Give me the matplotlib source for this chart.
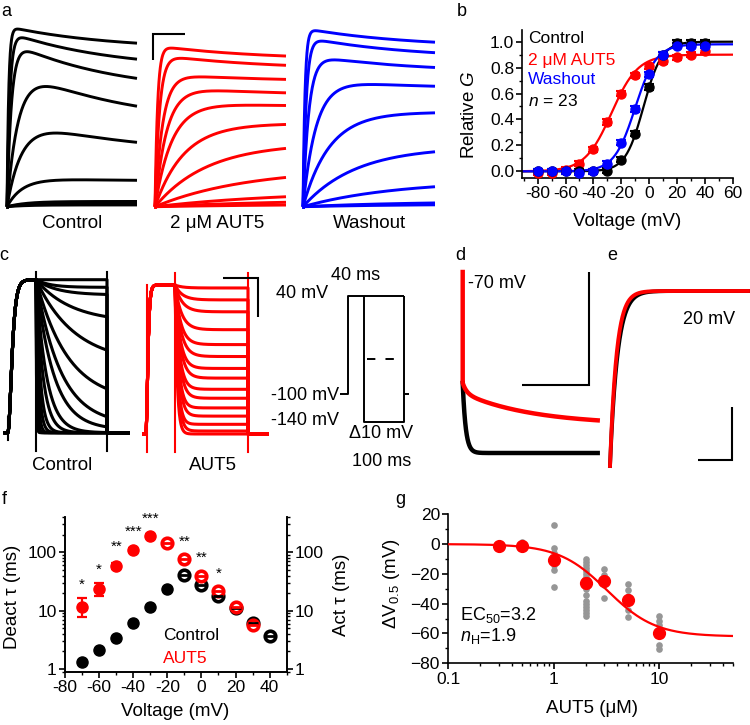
import numpy as np
import matplotlib
matplotlib.use('Agg')
import matplotlib.pyplot as plt
from matplotlib.ticker import MultipleLocator, FixedLocator, FuncFormatter, LogLocator, NullFormatter

plt.rcParams['font.family'] = ['Liberation Sans', 'DejaVu Sans']
plt.rcParams['mathtext.fontset'] = 'custom'
plt.rcParams['mathtext.rm'] = 'Liberation Sans'
plt.rcParams['mathtext.it'] = 'Liberation Sans:italic'
plt.rcParams['mathtext.sf'] = 'Liberation Sans'
plt.rcParams['axes.linewidth'] = 1.2

RED = '#ff0000'
BLUE = '#0000ff'
GRAY = '#969696'

# ---------------- DATA ----------------
# panel a: current traces (plateau amplitude, activation tau, fraction inactivated)
a_time_end = 100
a_inact_tau = 80
a_ctrl_amp = [1.03, 1.00, 0.95, 0.82, 0.52, 0.165, 0.03, 0.02, 0.01]
a_ctrl_tau = [1.3, 2.2, 3.5, 9, 12, 12, 15, 15, 15]
a_ctrl_inact = [0.13, 0.22, 0.32, 0.42, 0.41, 0.12, 0, 0, 0]
a_aut5_amp = [0.92, 0.87, 0.76, 0.69, 0.60, 0.475, 0.363, 0.22, 0.09, 0.04, 0.015]
a_aut5_tau = [2, 3.5, 6, 9, 13, 22, 40, 70, 100, 100, 100]
a_aut5_inact = [0.09, 0.10, 0.06, 0.08, 0.05, 0, 0, 0, 0, 0, 0]
a_wash_amp = [1.02, 0.97, 0.87, 0.73, 0.54, 0.342, 0.15, 0.03, 0.015]
a_wash_tau = [1.5, 2.5, 4.5, 10, 20, 40, 70, 80, 80]
a_wash_inact = [0.11, 0.13, 0.12, 0.08, 0, 0, 0, 0, 0]

# panel b: G-V
b_voltage = [-80, -70, -60, -50, -40, -30, -20, -10, 0, 10, 20, 30, 40]
b_ctrl = [0.0, 0.0, 0.0, 0.0, 0.0, 0.005, 0.09, 0.29, 0.65, 0.90, 0.99, 0.99, 0.99]
b_aut5 = [-0.01, -0.01, 0.01, 0.06, 0.17, 0.38, 0.60, 0.74, 0.81, 0.85, 0.88, 0.90, 0.93]
b_wash = [0.0, 0.0, 0.0, -0.01, 0.0, 0.06, 0.22, 0.48, 0.75, 0.90, 0.97, 0.97, 0.97]
b_err = 0.02
# Boltzmann fits: (Gmax, V1/2, k)
b_fit_ctrl = (1.0, -4, 6.5)
b_fit_aut5 = (0.9, -27, 9.5)
b_fit_wash = (0.98, -10, 7.5)

# panel c: deactivation traces (prepulse 40 ms at +40 mV, test 100 ms)
c_pre = 40
c_test = 100
c_ctrl_rise_tau = 4.0
c_aut5_rise_tau = 1.8
c_ctrl_final = [1.0, 0.95, 0.90, 0.72, 0.45, 0.20, 0.05, 0.02, 0, 0, 0, 0, 0, 0, 0, 0]
c_ctrl_tau = [1e9, 20, 30, 50, 55, 45, 35, 25, 15, 10, 6, 4, 2.5, 1.5, 1.0, 0.7]
c_aut5_final = [0.98, 0.90, 0.82, 0.70, 0.60, 0.52, 0.44, 0.375, 0.30, 0.24, 0.175, 0.12, 0.065, 0.02, 0.0]
c_aut5_tau = [10, 10, 10, 9, 8, 8, 7, 7, 6, 6, 5, 5, 4, 4, 3]
c_ctrl_spike = (-0.12, 1.05)
c_aut5_spike = (-0.12, 1.08)

# protocol
prot_hold = -100
prot_pre = 40
prot_vmin = -140
prot_mid = -50

# panel d: deactivation at -70 mV
d_spike = 188
d_start = 77
d_ctrl = (7, 70, 3)             # steady, amplitude, tau
d_aut5 = (35, 32, 70, 10, 4)    # steady, slow amp, slow tau, fast amp, fast tau
d_dur = 135

# panel e: activation at 20 mV
e_ctrl_tau = 7.5
e_aut5_tau = 6.5
e_dur = 138

# panel f: time constants
f_deact_v = [-70, -60, -50, -40, -30, -20]
f_deact_ctrl = [1.33, 2.12, 3.36, 6.07, 11.4, 23.5]
f_deact_v_aut5 = [-70, -60, -50, -40, -30]
f_deact_aut5 = [11.7, 23.3, 59, 110, 190]
f_deact_aut5_lo = [3.8, 5.3, 8, 9, 12]
f_deact_aut5_hi = [4.6, 6.1, 7, 10, 14]
f_act_v_ctrl = [-10, 0, 10, 20, 30, 40]
f_act_ctrl = [40.8, 27.5, 17.8, 11.2, 6.2, 3.7]
f_act_v_aut5 = [-20, -10, 0, 10, 20, 30]
f_act_aut5 = [143, 76, 39.3, 22, 11.4, 5.7]
f_star_v = [-70, -60, -50, -40, -30, -10, 0, 10]
f_star_txt = ['*', '*', '**', '***', '***', '**', '**', '*']
f_star_y = [27.5, 49.8, 125, 223, 372, 151, 80.8, 42.5]

# panel g: dose-response
g_conc = [0.3, 0.5, 1, 2, 3, 5, 10]
g_mean = [-1, -1, -10.5, -26, -25, -37.5, -60]
g_sem = [1, 1, 3, 3, 2.5, 3, 2.5]
g_cells = {
    0.3: [-1, 0, -2],
    0.5: [1.5, -0.7, 0, -2],
    1: [12.8, -2.9, -6.3, -9.6, -14, -17.4, -28.6],
    2: [-10, -12, -14, -16, -18, -20, -22, -24, -26, -30, -34, -38, -40, -42, -44, -46, -48],
    3: [-17, -21, -24, -27.5, -36.5],
    5: [-27, -31, -35, -39, -44, -49],
    10: [-48, -51.5, -54, -58, -61, -68, -70.5],
}
g_fit = (-62, 3.2, 1.9)   # Vmax, EC50, nH

# ---------------- FIGURE ----------------
W, H = 750, 725
fig = plt.figure(figsize=(7.5, 7.25), dpi=100)


def px_axes(xd, xp, yd, yp, xlim, ylim, xlog=False, ylog=False):
    f = np.log10 if xlog else (lambda v: v)
    g = np.log10 if ylog else (lambda v: v)
    sx = (xp[1] - xp[0]) / (f(xd[1]) - f(xd[0]))
    left = xp[0] + (f(xlim[0]) - f(xd[0])) * sx
    right = xp[0] + (f(xlim[1]) - f(xd[0])) * sx
    sy = (yp[1] - yp[0]) / (g(yd[1]) - g(yd[0]))
    bottom = yp[0] + (g(ylim[0]) - g(yd[0])) * sy
    top = yp[0] + (g(ylim[1]) - g(yd[0])) * sy
    ax = fig.add_axes([left / W, 1 - bottom / H, (right - left) / W, (bottom - top) / H])
    if xlog:
        ax.set_xscale('log')
    if ylog:
        ax.set_yscale('log')
    ax.set_xlim(xlim)
    ax.set_ylim(ylim)
    ax.patch.set_alpha(0)
    return ax


def T(x, y, s, **kw):
    kw.setdefault('ha', 'center')
    kw.setdefault('va', 'center')
    return fig.text(x / W, 1 - y / H, s, **kw)


def style(ax, fs=12.5):
    ax.tick_params(which='major', direction='out', length=4.5, width=1.2, labelsize=fs, pad=1.5)
    ax.tick_params(which='minor', direction='out', length=2.5, width=1.0)
    ax.spines['top'].set_visible(False)
    ax.spines['right'].set_visible(False)


hyph = FuncFormatter(lambda v, p: f'{v:.0f}')

# ----- panel a -----
t_a = np.linspace(0, a_time_end, 400)


def a_trace(A, ta, d):
    return A * (1 - np.exp(-t_a / ta)) * (1 - d * (1 - np.exp(-t_a / a_inact_tau)))


for amps, taus, inacts, x0, x1, col in [
        (a_ctrl_amp, a_ctrl_tau, a_ctrl_inact, 7, 137, 'k'),
        (a_aut5_amp, a_aut5_tau, a_aut5_inact, 155, 286, RED),
        (a_wash_amp, a_wash_tau, a_wash_inact, 303, 435, BLUE)]:
    ax = px_axes((0, 100), (x0, x1), (0, 1), (206.7, 31.7), (0, 100), (0, 1))
    ax.axis('off')
    for A, ta, d in zip(amps, taus, inacts):
        ax.plot(t_a, a_trace(A, ta, d), color=col, lw=2.1, clip_on=False, solid_capstyle='butt')
    ax.plot([0, 0], [0, 0.02], color=col, lw=2.1, clip_on=False)

T(71.7, 224, 'Control', fontsize=13.5)
T(217.5, 224, '2 \u03bcM AUT5', fontsize=13.5)
T(369, 224, 'Washout', fontsize=13.5)

# ----- panel b -----
axb = px_axes((-80, 60), (537.7, 732.7), (0, 1), (171.3, 41.7), (-91, 60), (-0.05, 1.09))
style(axb)
vfit = np.linspace(-91, 60, 300)
for (gm, vh, k), col in [(b_fit_ctrl, 'k'), (b_fit_aut5, RED), (b_fit_wash, BLUE)]:
    axb.plot(vfit, gm / (1 + np.exp((vh - vfit) / k)), color=col, lw=1.6, zorder=2)
for ydat, col in [(b_aut5, RED), (b_ctrl, 'k'), (b_wash, BLUE)]:
    axb.errorbar(b_voltage, ydat, yerr=b_err, fmt='o', color=col, ms=6.5, capsize=3.5,
                 elinewidth=1.5, capthick=1.5, zorder=3, clip_on=False)
axb.xaxis.set_major_locator(MultipleLocator(20))
axb.xaxis.set_minor_locator(MultipleLocator(10))
axb.xaxis.set_major_formatter(hyph)
axb.yaxis.set_major_locator(MultipleLocator(0.2))
axb.yaxis.set_minor_locator(MultipleLocator(0.1))
axb.yaxis.set_major_formatter(FuncFormatter(lambda v, p: f'{v:.1f}'))
T(627.5, 221, 'Voltage (mV)', fontsize=13.5)
T(469, 115, 'Relative $G$', fontsize=13.5, rotation=90)
T(528.3, 38.3, 'Control', fontsize=12.5, ha='left')
T(528.3, 60, '2 \u03bcM AUT5', fontsize=12.5, ha='left', color=RED)
T(528.3, 80, 'Washout', fontsize=12.5, ha='left', color=BLUE)
T(528.3, 101.5, '$n$ = 23', fontsize=12.5, ha='left')

# ----- panel c -----


def c_trace(final, tau, rise_tau, t_start, t_end):
    t1 = np.linspace(t_start, c_pre, 120)
    pre = np.where(t1 > 0, (1 - np.exp(-np.clip(t1, 0, None) / rise_tau)) ** 3, 0)
    t2 = np.linspace(c_pre, c_pre + c_test, 300)
    test = final + (1 - final) * np.exp(-(t2 - c_pre) / tau)
    t3 = np.array([c_pre + c_test, t_end])
    tail = np.zeros(2)
    return np.concatenate([t1, t2, t3]), np.concatenate([pre, test, tail])


for finals, taus, rtau, spike, x0, x1, y0, y1, ts, te, col in [
        (c_ctrl_final, c_ctrl_tau, c_ctrl_rise_tau, c_ctrl_spike, 7.6, 107, 432.7, 279.7, -3.7, 170, 'k'),
        (c_aut5_final, c_aut5_tau, c_aut5_rise_tau, c_aut5_spike, 145.8, 248, 434, 285, -2.5, 166, RED)]:
    ax = px_axes((0, 140), (x0, x1), (0, 1), (y0, y1), (ts, te), (-0.15, 1.1))
    ax.axis('off')
    for fn, tu in zip(finals, taus):
        tt, yy = c_trace(fn, tu, rtau, ts, te)
        ax.plot(tt, yy, color=col, lw=2.2, clip_on=False)
    for tx in [c_pre, c_pre + c_test]:
        ax.plot([tx, tx], list(spike), color=col, lw=1.5, clip_on=False)
    if col == RED:
        ax.plot([1.5, 1.5], [spike[0], 1.0], color=col, lw=1.5, clip_on=False)
    else:
        ax.plot([0, 0], [-0.05, 0.1], color=col, lw=1.5, clip_on=False)

T(62.5, 466, 'Control', fontsize=13.5)
T(213, 466, 'AUT5', fontsize=13.5)

# protocol
axp = px_axes((0, 140), (348, 404), (40, -140), (296, 421.7), (-25, 160), (-150, 50))
axp.axis('off')
pkw = dict(color='k', lw=1.4, clip_on=False, solid_capstyle='butt')
axp.plot([-20, 0, 0, c_pre + c_test], [prot_hold, prot_hold, prot_pre, prot_pre], **pkw)
axp.plot([c_pre, c_pre, c_pre + c_test, c_pre + c_test], [prot_pre, prot_vmin, prot_vmin, prot_pre], **pkw)
axp.plot([c_pre + c_test, c_pre + c_test + 12], [prot_hold, prot_hold], **pkw)
axp.plot([c_pre + 6.5, c_pre + 78], [prot_mid, prot_mid], color='k', lw=1.4, dashes=(4.3, 5.2),
         dash_capstyle='butt')
T(356, 276, '40 ms', fontsize=13)
T(302, 293, '40 mV', fontsize=13)
T(339, 396, '-100 mV', fontsize=13, ha='right')
T(339, 420, '-140 mV', fontsize=13, ha='right')
T(381, 433, '\u039410 mV', fontsize=13)
T(382, 462, '100 ms', fontsize=13)

# ----- panel d -----
axd = px_axes((0, 100), (462.7, 562.7), (0, 100), (460, 360), (-2, 140), (-5, 195))
axd.axis('off')
td = np.linspace(0.3, d_dur, 500)
dc = d_ctrl[0] + d_ctrl[1] * np.exp(-td / d_ctrl[2])
da = d_aut5[0] + d_aut5[1] * np.exp(-td / d_aut5[2]) + d_aut5[3] * np.exp(-td / d_aut5[4])
axd.plot(np.concatenate([[0], td]), np.concatenate([[d_start], dc]), color='k', lw=3.2, clip_on=False)
axd.plot(np.concatenate([[0, 0], td]), np.concatenate([[d_spike, d_start], da]), color=RED, lw=3.2, clip_on=False)
T(468, 283, '-70 mV', fontsize=13, ha='left')

# ----- panel e -----
axe = px_axes((0, 100), (610, 710), (0, 1), (466, 291), (-3, 140), (-0.1, 1.1))
axe.axis('off')
te_ = np.linspace(0, e_dur, 400)
axe.plot(te_, 1 - np.exp(-te_ / e_ctrl_tau), color='k', lw=2.8, clip_on=False)
axe.plot(te_, 1 - np.exp(-te_ / e_aut5_tau), color=RED, lw=2.8, clip_on=False)
T(709, 320, '20 mV', fontsize=13)

# ----- panel f -----
axf = px_axes((-80, 50), (65, 286.7), (1, 100), (669, 552.3), (-80, 50), (0.9, 400), ylog=True)
style(axf)
axf.spines['right'].set_visible(True)
axf.errorbar(f_deact_v, f_deact_ctrl, yerr=[[0.05 * v for v in f_deact_ctrl], [0.05 * v for v in f_deact_ctrl]],
             fmt='o', color='k', ms=8, capsize=3, elinewidth=1.4, zorder=3, clip_on=False)
axf.errorbar(f_deact_v_aut5, f_deact_aut5, yerr=[f_deact_aut5_lo, f_deact_aut5_hi],
             fmt='o', color=RED, ms=8, capsize=3.5, elinewidth=1.6, capthick=1.6, zorder=3, clip_on=False)
for vv, yy, col in [(f_act_v_ctrl, f_act_ctrl, 'k'), (f_act_v_aut5, f_act_aut5, RED)]:
    axf.plot(vv, yy, 'o', mfc='white', mec=col, mew=2.6, ms=7.6, zorder=4, clip_on=False)
    axf.plot(vv, yy, '_', color=col, ms=6.5, mew=2.0, zorder=5, clip_on=False)
for v, s, y in zip(f_star_v, f_star_txt, f_star_y):
    axf.text(v, y, s, ha='center', va='center', fontsize=11)
axf.xaxis.set_major_locator(MultipleLocator(20))
axf.xaxis.set_minor_locator(MultipleLocator(10))
axf.xaxis.set_major_formatter(hyph)
axf.yaxis.set_major_locator(FixedLocator([1, 10, 100]))
axf.yaxis.set_minor_locator(LogLocator(subs=np.arange(2, 10)))
axf.yaxis.set_minor_formatter(NullFormatter())
axf.yaxis.set_major_formatter(FuncFormatter(lambda v, p: f'{v:g}'))
axf2 = axf.twinx()
axf2.set_yscale('log')
axf2.set_ylim(0.9, 400)
axf2.spines['top'].set_visible(False)
axf2.tick_params(which='major', direction='out', length=4.5, width=1.2, labelsize=12.5, pad=1.5)
axf2.tick_params(which='minor', direction='out', length=2.5, width=1.0)
axf2.yaxis.set_major_locator(FixedLocator([1, 10, 100]))
axf2.yaxis.set_minor_locator(LogLocator(subs=np.arange(2, 10)))
axf2.yaxis.set_minor_formatter(NullFormatter())
axf2.yaxis.set_major_formatter(FuncFormatter(lambda v, p: f'{v:g}'))
T(175, 711, 'Voltage (mV)', fontsize=13.5)
T(12.5, 597, 'Deact \u03c4 (ms)', fontsize=13.5, rotation=90)
T(341.5, 595, 'Act \u03c4 (ms)', fontsize=13.5, rotation=90)
T(163, 635.7, 'Control', fontsize=12.5, ha='left')
T(163, 658.3, 'AUT5', fontsize=12.5, ha='left', color=RED)

# ----- panel g -----
axg = px_axes((0.1, 10), (448.3, 659.3), (-80, 20), (663.3, 514.3), (0.1, 50), (-80, 20), xlog=True)
style(axg)
for c, vals in g_cells.items():
    axg.plot([c] * len(vals), vals, 'o', color=GRAY, ms=4.8, mew=0, zorder=2, clip_on=False)
cf = np.logspace(-1, np.log10(50), 300)
vm, ec, nh = g_fit
axg.plot(cf, vm * cf ** nh / (ec ** nh + cf ** nh), color=RED, lw=1.6, zorder=3)
axg.errorbar(g_conc, g_mean, yerr=g_sem, fmt='o', color=RED, ms=8.5, capsize=3, elinewidth=1.5, zorder=4)
axg.yaxis.set_major_locator(MultipleLocator(20))
axg.yaxis.set_minor_locator(MultipleLocator(10))
axg.yaxis.set_major_formatter(FuncFormatter(lambda v, p: f'{v:.0f}'.replace('-', '\u2212')))
axg.xaxis.set_major_locator(FixedLocator([0.1, 1, 10]))
axg.xaxis.set_major_formatter(FuncFormatter(lambda v, p: f'{v:g}'))
axg.xaxis.set_minor_locator(LogLocator(subs=np.arange(2, 10)))
axg.xaxis.set_minor_formatter(NullFormatter())
T(591.7, 708.5, 'AUT5 (\u03bcM)', fontsize=13.5)
T(392, 584, '\u0394V$_{0.5}$ (mV)', fontsize=13.5, rotation=90)
T(460, 615, 'EC$_{50}$=3.2', fontsize=13, ha='left')
T(460, 636, '$n$$_{\\mathrm{H}}$=1.9', fontsize=13, ha='left')

# ----- overlay: scale bars and panel letters -----
ov = fig.add_axes([0, 0, 1, 1])
ov.set_xlim(0, W)
ov.set_ylim(H, 0)
ov.axis('off')
ov.patch.set_alpha(0)
sb = dict(color='k', lw=1.5, solid_capstyle='butt', solid_joinstyle='miter')
ov.plot([153, 153, 185], [60, 34, 34], **sb)
ov.plot([223, 258, 258], [278, 278, 317], **sb)
ov.plot([521.7, 589, 589], [385, 385, 271.7], **sb)
ov.plot([698, 732, 732], [460, 460, 407], **sb)

for lab, x, y in [('a', 6, 12), ('b', 462, 12), ('c', 4, 256), ('d', 460, 256),
                  ('e', 612, 256), ('f', 4, 500), ('g', 400, 500)]:
    T(x, y, lab, fontsize=13)

fig.savefig('out.png', dpi=100)
